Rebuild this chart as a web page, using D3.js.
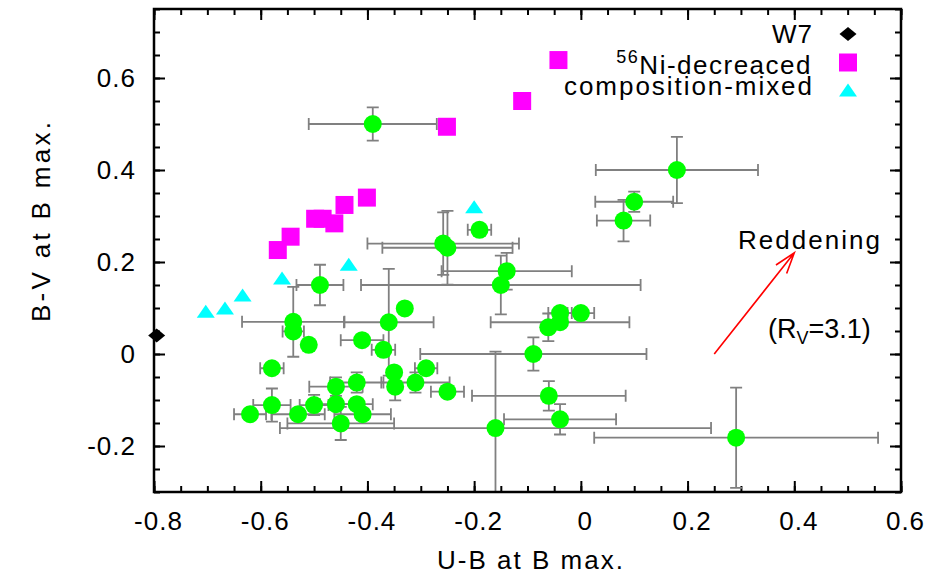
<!DOCTYPE html>
<html lang="en">
  <head>
    <meta charset="utf-8">
    <title>B-V vs U-B at B max.</title>
    <style>
      body { margin: 0; background: #fff; }
      svg text { font-family: "Liberation Sans", Arial, Helvetica, sans-serif; fill: #000; }
    </style>
  </head>
  <body>
    <script src="https://cdn.jsdelivr.net/npm/d3@7"></script>
    <script>

    // observed SNe Ia (green, with error bars)
    var obsUB  = [-0.39, 0.18, 0.10, 0.08, -0.258, -0.25, -0.19, -0.139, -0.15, -0.489,
                  -0.539, -0.539, -0.51, -0.33, -0.36, -0.41, -0.37, -0.579, -0.35, -0.348,
                  -0.29, -0.31, -0.25, -0.459, -0.42, -0.579, -0.62, -0.53, -0.50, -0.459,
                  -0.42, -0.409, -0.45, -0.16, -0.089, -0.06, -0.039, -0.039, 0.0, -0.039,
                  -0.061, 0.291];
    var obsBV  = [0.50, 0.40, 0.331, 0.29, 0.24, 0.231, 0.27, 0.18, 0.15, 0.15,
                  0.07, 0.049, 0.02, 0.099, 0.069, 0.03, 0.009, -0.031, -0.04, -0.071,
                  -0.031, -0.062, -0.082, -0.071, -0.062, -0.111, -0.131, -0.131, -0.111, -0.109,
                  -0.109, -0.131, -0.151, -0.161, 0.0, -0.091, -0.142, 0.089, 0.089, 0.069,
                  0.058, -0.182];
    var obsUBerr = [0.12, 0.152, 0.073, 0.05, 0.142, 0.122, 0.022, 0.122, 0.262, 0.044,
                    0.096, 0.02, 0, 0, 0.084, 0.04, 0.022, 0.022, 0, 0,
                    0.021, 0.064, 0.031, 0.05, 0.05, 0.035, 0.03, 0.05, 0.027, 0.03,
                    0.03, 0.053, 0.1, 0.404, 0.212, 0.144, 0.105, 0.022, 0.025, 0.13,
                    0, 0.266];
    var obsBVerr = [0.036, 0.072, 0.022, 0.045, 0.068, 0.08, 0, 0.04, 0.064, 0.044,
                    0.076, 0, 0, 0, 0.116, 0, 0, 0, 0, 0.03,
                    0, 0.022, 0, 0.02, 0.022, 0.036, 0, 0, 0.022, 0,
                    0, 0, 0.036, 0.166, 0.036, 0.032, 0.033, 0, 0, 0,
                    0.03, 0.109];

    // models
    var w7UB = [-0.795], w7BV = [0.04];
    var niUB = [-0.251, -0.11, -0.042, -0.401, -0.443, -0.498, -0.484, -0.462, -0.544, -0.568];
    var niBV = [0.494, 0.55, 0.639, 0.34, 0.324, 0.294, 0.294, 0.284, 0.255, 0.226];
    var mixUB = [-0.20, -0.435, -0.56, -0.634, -0.667, -0.703];
    var mixBV = [0.32, 0.195, 0.165, 0.128, 0.10, 0.093];

    // reddening vector (R_V = 3.1)
    var arrowUB = [0.25, 0.40], arrowBV = [0.0, 0.22];

    var xTicks = [-0.8, -0.6, -0.4, -0.2, 0, 0.2, 0.4, 0.6];
    var yTicks = [-0.2, 0, 0.2, 0.4, 0.6];

    var W = 940, H = 576,
        pL = 154, pR = 901, pT = 9, pB = 492;

    var x = d3.scaleLinear().domain([-0.8, 0.6]).range([pL, pR]);
    var y = d3.scaleLinear().domain([-0.3, 0.75]).range([pB, pT]);

    var svg = d3.select("body").append("svg")
        .attr("width", W)
        .attr("height", H);

    svg.append("clipPath").attr("id", "plot")
      .append("rect")
        .attr("x", pL).attr("y", pT)
        .attr("width", pR - pL).attr("height", pB - pT);

    var fmt = function(d) { return String(Math.round(d * 10) / 10); };
    var xMinor = d3.range(-0.8, 0.6001, 0.05).map(function(d) { return Math.round(d * 100) / 100; });
    var yMinor = d3.range(-0.3, 0.7501, 0.05).map(function(d) { return Math.round(d * 100) / 100; });

    // axes, ticks pointing inwards on all four sides
    function ticks(axis, pos, vals, size, labels) {
      var g = svg.append("g")
          .attr("transform", pos)
          .call(axis.tickValues(vals).tickSize(size)
                .tickFormat(labels ? fmt : "").tickPadding(labels || 0));
      g.select(".domain").remove();
      g.selectAll("line").attr("stroke", "#000").attr("stroke-width", 2);
      g.selectAll("text")
          .style("font-size", "26px")
          .style("letter-spacing", "1px")
          .attr("font-family", null);
      return g;
    }
    ticks(d3.axisBottom(x), "translate(0," + pB + ")", xMinor, -6);
    ticks(d3.axisBottom(x), "translate(0," + pB + ")", xTicks, -11, 20)
        .selectAll("text").attr("dx", 4);
    ticks(d3.axisTop(x), "translate(0," + pT + ")", xMinor, -6);
    ticks(d3.axisTop(x), "translate(0," + pT + ")", xTicks, -11);
    ticks(d3.axisLeft(y), "translate(" + pL + ",0)", yMinor, -6);
    ticks(d3.axisLeft(y), "translate(" + pL + ",0)", yTicks, -11, 18);
    ticks(d3.axisRight(y), "translate(" + pR + ",0)", yMinor, -6);
    ticks(d3.axisRight(y), "translate(" + pR + ",0)", yTicks, -11);

    // error bars
    var idx = d3.range(obsUB.length);
    var bars = svg.append("g")
        .attr("clip-path", "url(#plot)")
        .attr("stroke", "#808080")
        .attr("stroke-width", 1.8)
        .attr("fill", "none");
    var cap = 6;
    idx.forEach(function(i) {
      var cx = x(obsUB[i]), cy = y(obsBV[i]);
      var p = "";
      if (obsUBerr[i] > 0) {
        var x0 = x(obsUB[i] - obsUBerr[i]), x1 = x(obsUB[i] + obsUBerr[i]);
        p += "M" + x0 + "," + cy + "H" + x1 +
             "M" + x0 + "," + (cy - cap) + "V" + (cy + cap) +
             "M" + x1 + "," + (cy - cap) + "V" + (cy + cap);
      }
      if (obsBVerr[i] > 0) {
        var y0 = y(obsBV[i] - obsBVerr[i]), y1 = y(obsBV[i] + obsBVerr[i]);
        p += "M" + cx + "," + y0 + "V" + y1 +
             "M" + (cx - cap) + "," + y0 + "H" + (cx + cap) +
             "M" + (cx - cap) + "," + y1 + "H" + (cx + cap);
      }
      if (p) bars.append("path").attr("d", p);
    });

    svg.append("g").selectAll("circle")
        .data(idx)
      .enter().append("circle")
        .attr("cx", function(i) { return x(obsUB[i]); })
        .attr("cy", function(i) { return y(obsBV[i]); })
        .attr("r", 9)
        .attr("fill", "#00ff00");

    var square = "M-9,-9H9V9H-9Z",
        triangle = "M0,-6.5L9,6.5H-9Z",
        diamond = "M0,-7L8.5,0L0,7L-8.5,0Z";

    svg.append("g").selectAll("path")
        .data(d3.range(niUB.length))
      .enter().append("path")
        .attr("d", square)
        .attr("transform", function(i) { return "translate(" + x(niUB[i]) + "," + y(niBV[i]) + ")"; })
        .attr("fill", "#ff00ff");

    svg.append("g").selectAll("path")
        .data(d3.range(mixUB.length))
      .enter().append("path")
        .attr("d", triangle)
        .attr("transform", function(i) { return "translate(" + x(mixUB[i]) + "," + y(mixBV[i]) + ")"; })
        .attr("fill", "#00ffff");

    svg.append("g").selectAll("path")
        .data(d3.range(w7UB.length))
      .enter().append("path")
        .attr("d", diamond)
        .attr("transform", function(i) { return "translate(" + x(w7UB[i]) + "," + y(w7BV[i]) + ")"; })
        .attr("fill", "#000");

    // frame
    svg.append("rect")
        .attr("x", pL).attr("y", pT)
        .attr("width", pR - pL).attr("height", pB - pT)
        .attr("fill", "none")
        .attr("stroke", "#000")
        .attr("stroke-width", 2.5);

    // reddening arrow
    var ax0 = x(arrowUB[0]), ay0 = y(arrowBV[0]), ax1 = x(arrowUB[1]), ay1 = y(arrowBV[1]);
    var ang = Math.atan2(ay0 - ay1, ax0 - ax1), hl = 22, ha = 18 * Math.PI / 180;
    svg.append("path")
        .attr("d", "M" + ax0 + "," + ay0 + "L" + ax1 + "," + ay1 +
                   "M" + (ax1 + hl * Math.cos(ang + ha)) + "," + (ay1 + hl * Math.sin(ang + ha)) +
                   "L" + ax1 + "," + ay1 +
                   "L" + (ax1 + hl * Math.cos(ang - ha)) + "," + (ay1 + hl * Math.sin(ang - ha)))
        .attr("fill", "none")
        .attr("stroke", "#ff0000")
        .attr("stroke-width", 1.6);

    svg.append("text")
        .attr("x", 738).attr("y", 249)
        .attr("textLength", 142)
        .style("font-size", "26px")
        .text("Reddening");

    var rv = svg.append("text")
        .attr("x", 768).attr("y", 338)
        .style("font-size", "27px");
    rv.append("tspan").text("(R");
    rv.append("tspan").attr("dy", 6).style("font-size", "18px").text("V");
    rv.append("tspan").attr("dy", -6).text("=3.1)");

    // legend
    var legX = 812, symX = 848;
    svg.append("text")
        .attr("x", legX - 40).attr("y", 43)
        .attr("textLength", 40)
        .style("font-size", "26px")
        .text("W7");
    var ni = svg.append("text")
        .attr("x", legX).attr("y", 73.5)
        .attr("text-anchor", "end")
        .style("font-size", "26px")
        .style("letter-spacing", "1.5px");
    ni.append("tspan").attr("dy", -11).style("font-size", "18px").text("56");
    ni.append("tspan").attr("dy", 11).text("Ni-decreaced");
    svg.append("text")
        .attr("x", legX - 248).attr("y", 95)
        .attr("textLength", 248)
        .style("font-size", "26px")
        .text("composition-mixed");

    svg.append("path").attr("d", diamond).attr("transform", "translate(" + symX + ",34)").attr("fill", "#000");
    svg.append("path").attr("d", square).attr("transform", "translate(" + symX + ",62.5)").attr("fill", "#ff00ff");
    svg.append("path").attr("d", triangle).attr("transform", "translate(" + symX + ",90)").attr("fill", "#00ffff");

    // axis titles
    svg.append("text")
        .attr("x", 437).attr("y", 569)
        .attr("textLength", 186)
        .style("font-size", "26px")
        .text("U-B at B max.");

    svg.append("text")
        .attr("transform", "translate(50,322)rotate(-90)")
        .attr("textLength", 200)
        .style("font-size", "26px")
        .text("B-V at B max.");

    </script>
  </body>
</html>
